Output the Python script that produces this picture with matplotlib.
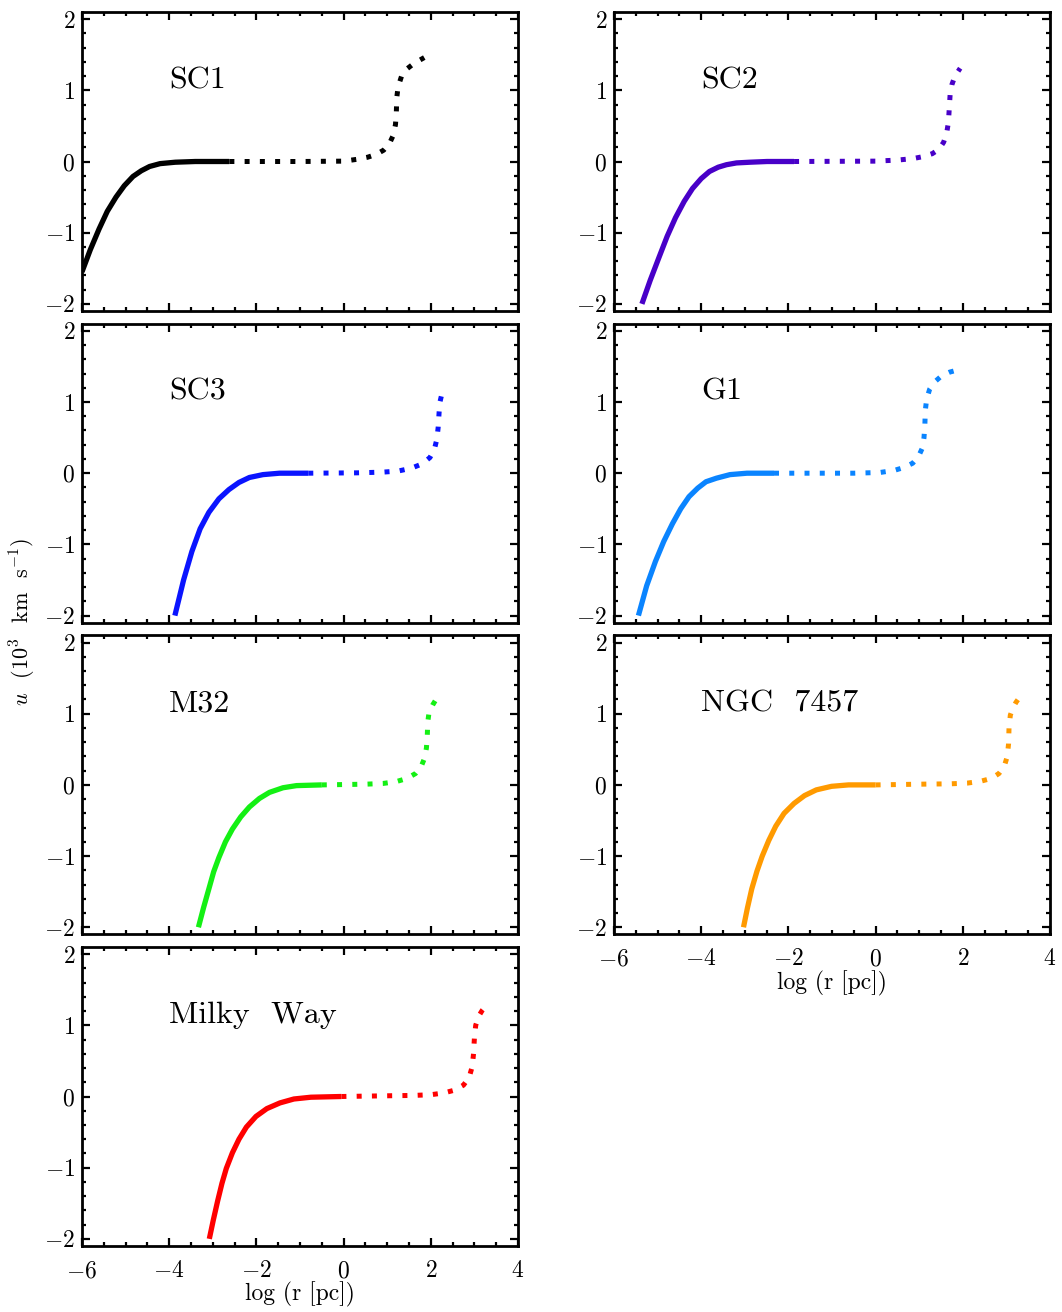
import numpy as np
import matplotlib.pyplot as plt
from matplotlib.ticker import MultipleLocator

plt.rcParams['font.family'] = 'cmr10'
plt.rcParams['mathtext.fontset'] = 'cm'
plt.rcParams['axes.formatter.use_mathtext'] = True

names = ['SC1', 'SC2', 'SC3', 'G1', 'M32', 'NGC  7457', 'Milky  Way']
colors = ['#000000', '#4800c8', '#0a14ff', '#0a84ff', '#14f014', '#ff9a00', '#ff0000']

# solid part (inner branch) and dotted part (outer branch) of each panel
x_in_sc1 = [-6.0, -5.81, -5.61, -5.42, -5.22, -5.03, -4.83, -4.64, -4.45, -4.21, -3.86, -3.40, -2.62]
u_in_sc1 = [-1.55, -1.24, -0.95, -0.70, -0.50, -0.34, -0.21, -0.13, -0.07, -0.03, -0.01, 0.0, 0.0]
x_out_sc1 = [-2.62, -1.0, 0.0, 0.3, 0.55, 0.75, 0.92, 1.05, 1.14, 1.19, 1.21, 1.22, 1.25, 1.33, 1.45, 1.62, 1.85]
u_out_sc1 = [0.0, 0.0, 0.005, 0.03, 0.06, 0.10, 0.16, 0.25, 0.37, 0.52, 0.70, 0.90, 1.05, 1.20, 1.30, 1.38, 1.46]

x_in_sc2 = [-5.36, -5.17, -4.97, -4.78, -4.59, -4.39, -4.20, -4.00, -3.81, -3.61, -3.42, -3.19, -2.88, -2.49, -1.87]
u_in_sc2 = [-2.0, -1.67, -1.35, -1.05, -0.79, -0.56, -0.38, -0.24, -0.14, -0.08, -0.045, -0.02, -0.01, 0.0, 0.0]
x_out_sc2 = [-1.87, 0.0, 0.5, 0.85, 1.1, 1.3, 1.45, 1.56, 1.63, 1.67, 1.69, 1.71, 1.75, 1.82, 1.94]
u_out_sc2 = [0.0, 0.005, 0.02, 0.04, 0.07, 0.11, 0.17, 0.27, 0.40, 0.55, 0.75, 0.95, 1.08, 1.20, 1.31]

x_in_sc3 = [-3.87, -3.67, -3.48, -3.29, -3.09, -2.86, -2.63, -2.40, -2.16, -1.85, -1.47, -0.81]
u_in_sc3 = [-2.0, -1.50, -1.10, -0.78, -0.55, -0.36, -0.23, -0.13, -0.06, -0.02, 0.0, 0.0]
x_out_sc3 = [-0.81, 0.3, 0.9, 1.25, 1.55, 1.8, 1.98, 2.08, 2.14, 2.17, 2.19, 2.21, 2.26]
u_out_sc3 = [0.0, 0.005, 0.015, 0.03, 0.07, 0.13, 0.22, 0.33, 0.48, 0.65, 0.85, 1.0, 1.13]

x_in_g1 = [-5.44, -5.25, -5.05, -4.86, -4.66, -4.47, -4.28, -4.08, -3.89, -3.65, -3.34, -2.95, -2.33]
u_in_g1 = [-2.0, -1.58, -1.24, -0.96, -0.71, -0.50, -0.33, -0.21, -0.12, -0.07, -0.02, 0.0, 0.0]
x_out_g1 = [-2.33, -0.5, 0.1, 0.43, 0.65, 0.85, 0.98, 1.07, 1.11, 1.13, 1.14, 1.17, 1.24, 1.35, 1.52, 1.70, 1.88]
u_out_g1 = [0.0, 0.0, 0.01, 0.04, 0.08, 0.14, 0.23, 0.35, 0.50, 0.68, 0.88, 1.04, 1.18, 1.28, 1.37, 1.42, 1.45]

x_in_m32 = [-3.33, -3.21, -3.09, -2.98, -2.86, -2.71, -2.55, -2.36, -2.16, -1.93, -1.70, -1.39, -1.08, -0.50]
u_in_m32 = [-2.0, -1.72, -1.46, -1.22, -1.02, -0.80, -0.62, -0.45, -0.31, -0.19, -0.105, -0.04, -0.01, 0.0]
x_out_m32 = [-0.50, 0.5, 0.9, 1.2, 1.45, 1.65, 1.78, 1.86, 1.90, 1.92, 1.93, 1.96, 2.04, 2.12, 2.22]
u_out_m32 = [0.0, 0.01, 0.02, 0.045, 0.09, 0.16, 0.26, 0.38, 0.52, 0.70, 0.88, 1.02, 1.12, 1.20, 1.28]

x_in_ngc = [-3.03, -2.94, -2.84, -2.72, -2.60, -2.45, -2.29, -2.10, -1.87, -1.63, -1.36, -1.01, -0.62, 0.0]
u_in_ngc = [-2.0, -1.73, -1.46, -1.21, -1.0, -0.78, -0.58, -0.40, -0.26, -0.15, -0.07, -0.02, 0.0, 0.0]
x_out_ngc = [0.0, 1.0, 1.7, 2.1, 2.4, 2.65, 2.83, 2.95, 3.02, 3.05, 3.06, 3.09, 3.15, 3.22, 3.29]
u_out_ngc = [0.0, 0.01, 0.015, 0.025, 0.05, 0.09, 0.16, 0.26, 0.40, 0.58, 0.80, 0.98, 1.08, 1.16, 1.22]

x_in_mw = [-3.08, -2.99, -2.89, -2.79, -2.69, -2.55, -2.40, -2.23, -2.01, -1.76, -1.46, -1.14, -0.75, -0.05]
u_in_mw = [-2.0, -1.74, -1.47, -1.22, -1.01, -0.79, -0.60, -0.43, -0.28, -0.17, -0.09, -0.035, -0.01, 0.0]
x_out_mw = [-0.05, 1.0, 1.6, 2.0, 2.3, 2.55, 2.75, 2.88, 2.95, 2.98, 3.0, 3.03, 3.10, 3.18, 3.26]
u_out_mw = [0.0, 0.01, 0.015, 0.025, 0.05, 0.09, 0.16, 0.27, 0.42, 0.60, 0.82, 1.0, 1.13, 1.21, 1.27]

inner = [(x_in_sc1, u_in_sc1), (x_in_sc2, u_in_sc2), (x_in_sc3, u_in_sc3), (x_in_g1, u_in_g1),
         (x_in_m32, u_in_m32), (x_in_ngc, u_in_ngc), (x_in_mw, u_in_mw)]
outer = [(x_out_sc1, u_out_sc1), (x_out_sc2, u_out_sc2), (x_out_sc3, u_out_sc3), (x_out_g1, u_out_g1),
         (x_out_m32, u_out_m32), (x_out_ngc, u_out_ngc), (x_out_mw, u_out_mw)]

W, H = 1062, 1312
fig = plt.figure(figsize=(W/100, H/100), dpi=100)

col_left = [82, 614]
row_top = [12, 323.7, 635.4, 947]
aw, ah = 436, 299

for i in range(7):
    r, c = i//2, i % 2
    ax = fig.add_axes([col_left[c]/W, 1 - (row_top[r]+ah)/H, aw/W, ah/H])
    xi, ui = inner[i]
    xo, uo = outer[i]
    ax.plot(xi, ui, color=colors[i], lw=3.8, solid_capstyle='butt', solid_joinstyle='round')
    ax.plot(xo, uo, color=colors[i], lw=3.6, linestyle=(0, (1, 2.05)))
    ax.text(-4.0, 1.03, names[i], fontsize=23, va='baseline', ha='left')

    ax.set_xlim(-6, 4)
    ax.set_ylim(-2.1, 2.1)
    ax.xaxis.set_major_locator(MultipleLocator(2))
    ax.xaxis.set_minor_locator(MultipleLocator(0.5))
    ax.yaxis.set_major_locator(MultipleLocator(1))
    ax.yaxis.set_minor_locator(MultipleLocator(0.2))
    ax.tick_params(which='both', direction='in', top=True, right=True, labelsize=17)
    ax.tick_params(which='major', length=6, width=1.6)
    ax.tick_params(which='minor', length=3, width=1.6)
    ax.tick_params(axis='x', pad=10)
    ax.tick_params(axis='y', pad=5)
    for s in ax.spines.values():
        s.set_linewidth(2.0)
    if i in (5, 6):
        ax.set_xlabel('log (r [pc])', fontsize=17, labelpad=0)
    else:
        ax.tick_params(axis='x', labelbottom=False)

fig.text(0.022, 0.526, r'$u$  (10$^{3}$  km  s$^{-1}$)', rotation=90,
         va='center', ha='center', fontsize=16)

plt.savefig('out.png', dpi=100)
